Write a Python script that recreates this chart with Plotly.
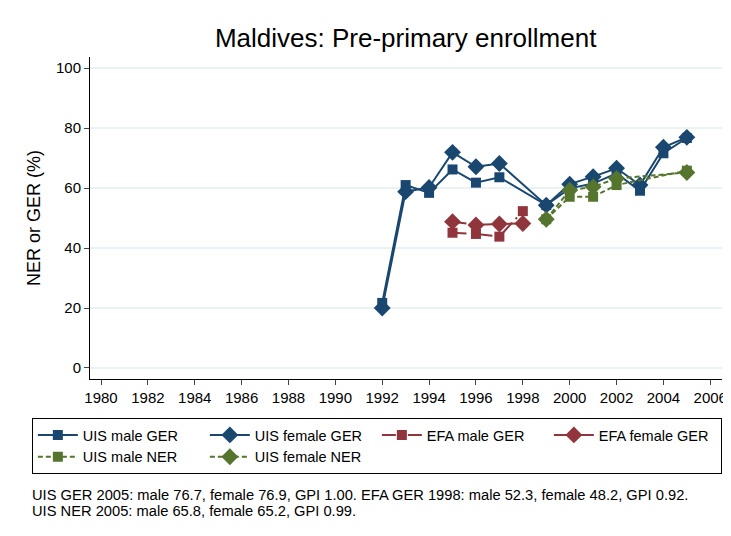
import plotly.graph_objects as go

ger_years = [1992, 1993, 1994, 1995, 1996, 1997, 1999, 2000, 2001, 2002, 2003, 2004, 2005]
uis_male_ger = [21.7, 61.0, 58.4, 66.2, 61.8, 63.6, 54.3, 59.9, 61.5, 64.9, 59.1, 71.6, 76.7]
uis_female_ger = [20.0, 58.8, 60.2, 71.9, 67.1, 68.2, 54.3, 61.3, 63.8, 66.6, 61.0, 73.6, 76.9]

efa_years = [1995, 1996, 1997, 1998]
efa_male_ger = [45.1, 44.7, 43.8, 52.3]
efa_female_ger = [48.8, 47.7, 48.0, 48.2]

ner_years = [1999, 2000, 2001, 2002, 2005]
uis_male_ner = [49.6, 57.1, 57.1, 61.0, 65.8]
uis_female_ner = [49.6, 59.3, 60.4, 63.2, 65.2]

x_ticks = list(range(1980, 2007, 2))
y_ticks = [0, 20, 40, 60, 80, 100]

note_lines = [
    "UIS GER 2005: male 76.7, female 76.9, GPI 1.00. EFA GER 1998: male 52.3, female 48.2, GPI 0.92.",
    "UIS NER 2005: male 65.8, female 65.2, GPI 0.99.",
]

NAVY = "#1a476f"
MAROON = "#90353b"
GREEN = "#55752f"

fig = go.Figure()

def add(x, y, name, color, symbol, size, dash):
    fig.add_trace(go.Scatter(
        x=x, y=y, name=name, mode="lines+markers",
        line=dict(color=color, width=2, dash=dash),
        marker=dict(symbol=symbol, size=size, color=color),
    ))

add(ger_years, uis_male_ger, "UIS male GER", NAVY, "square", 10, "solid")
add(ger_years, uis_female_ger, "UIS female GER", NAVY, "diamond", 13, "solid")
add(efa_years, efa_male_ger, "EFA male GER", MAROON, "square", 10, "14px,5px,2px,5px")
add(efa_years, efa_female_ger, "EFA female GER", MAROON, "diamond", 13, "14px,5px,2px,5px")
add(ner_years, uis_male_ner, "UIS male NER", GREEN, "square", 10, "5px,3px")
add(ner_years, uis_female_ner, "UIS female NER", GREEN, "diamond", 13, "5px,3px")

annotations = [
    dict(text=note_lines[0], xref="paper", yref="paper", x=-0.095, y=-0.3602,
         xanchor="left", yanchor="middle", align="left", showarrow=False, font=dict(size=14.7)),
    dict(text=note_lines[1], xref="paper", yref="paper", x=-0.095, y=-0.41,
         xanchor="left", yanchor="middle", align="left", showarrow=False, font=dict(size=14.7)),
]

fig.update_layout(
    width=723, height=528,
    margin=dict(l=82, r=9, t=49, b=157, autoexpand=False),
    paper_bgcolor="white", plot_bgcolor="white",
    font=dict(family="Liberation Sans, Arial, sans-serif", color="black", size=15),
    title=dict(text="Maldives: Pre-primary enrollment", x=0.55, xanchor="center",
               y=0.943, yanchor="middle", font=dict(size=26)),
    showlegend=True,
    legend=dict(orientation="h", x=-0.092, y=-0.121, xanchor="left", yanchor="top",
                bordercolor="black", borderwidth=1, entrywidth=117, itemwidth=40,
                font=dict(size=14.5), traceorder="normal"),
    annotations=annotations,
)

fig.update_xaxes(range=[1979.53, 2006.5], tickvals=x_ticks, ticks="outside", ticklen=5,
                 showline=True, linecolor="black", linewidth=1, showgrid=False,
                 zeroline=False, tickfont=dict(size=15))
fig.update_yaxes(range=[-3.67, 103.7], tickvals=y_ticks, ticks="outside", ticklen=5,
                 showline=True, linecolor="black", linewidth=1, showgrid=True,
                 gridcolor="#eaf2f3", gridwidth=1.5, zeroline=False,
                 title=dict(text="NER or GER (%)", font=dict(size=18), standoff=10),
                 tickfont=dict(size=15))

fig.write_html("out.html")
